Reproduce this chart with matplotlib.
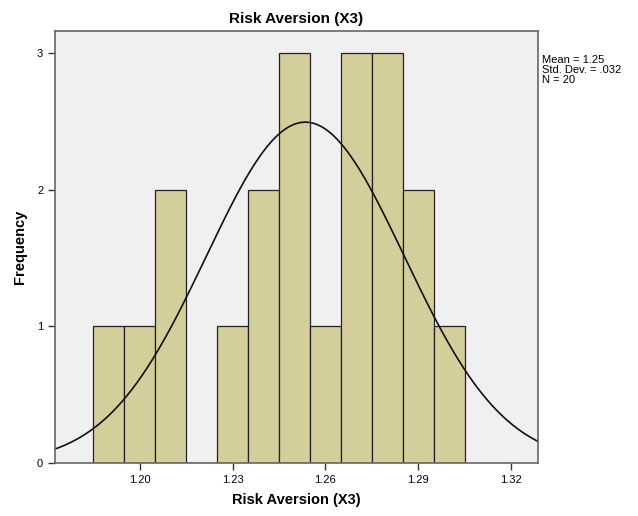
import matplotlib.pyplot as plt
import numpy as np

plt.rcParams['font.family'] = ['Liberation Sans', 'DejaVu Sans']

# histogram bins (centers) and counts
bin_centers = [1.19, 1.20, 1.21, 1.22, 1.23, 1.24, 1.25, 1.26, 1.27, 1.28, 1.29, 1.30]
counts = [1, 1, 2, 0, 1, 2, 3, 1, 3, 3, 2, 1]
bin_width = 0.01

mean = 1.2535
std_dev = 0.032
n = 20

x_ticks = [1.20, 1.23, 1.26, 1.29, 1.32]
x_tick_labels = ['1.20', '1.23', '1.26', '1.29', '1.32']
y_ticks = [0, 1, 2, 3]

fig = plt.figure(figsize=(6.38, 5.16), dpi=100)
ax = fig.add_axes([55 / 638, 1 - 463 / 516, (538 - 55) / 638, (463 - 31) / 516])
ax.set_facecolor('#f0f0f0')

ax.bar(bin_centers, counts, width=bin_width, color='#d3ce9a',
       edgecolor='#222222', linewidth=0.9)

xs = np.linspace(1.1726, 1.3287, 300)
ys = n * bin_width / (std_dev * np.sqrt(2 * np.pi)) * np.exp(-0.5 * ((xs - mean) / std_dev) ** 2)
ax.plot(xs, ys, color='#111111', linewidth=1.2)

ax.set_xlim(1.1726, 1.3287)
ax.set_ylim(0, 3.16)
ax.set_xticks(x_ticks)
ax.set_xticklabels(x_tick_labels)
ax.set_yticks(y_ticks)
ax.tick_params(axis='both', labelsize=8, color='#333333', length=5, width=1)

for s in ax.spines.values():
    s.set_color('#666666')
    s.set_linewidth(1.2)

ax.set_title('Risk Aversion (X3)', fontsize=11, fontweight='bold', pad=6)
ax.set_xlabel('Risk Aversion (X3)', fontsize=10.5, fontweight='bold', labelpad=6)
ax.set_ylabel('Frequency', fontsize=10.5, fontweight='bold', labelpad=7)

fig.text(542 / 638, 1 - 70 / 516, 'Mean = 1.25\nStd. Dev. = .032\nN = 20',
         fontsize=8, va='center', ha='left', linespacing=0.95)

fig.savefig('out.png', dpi=100)
